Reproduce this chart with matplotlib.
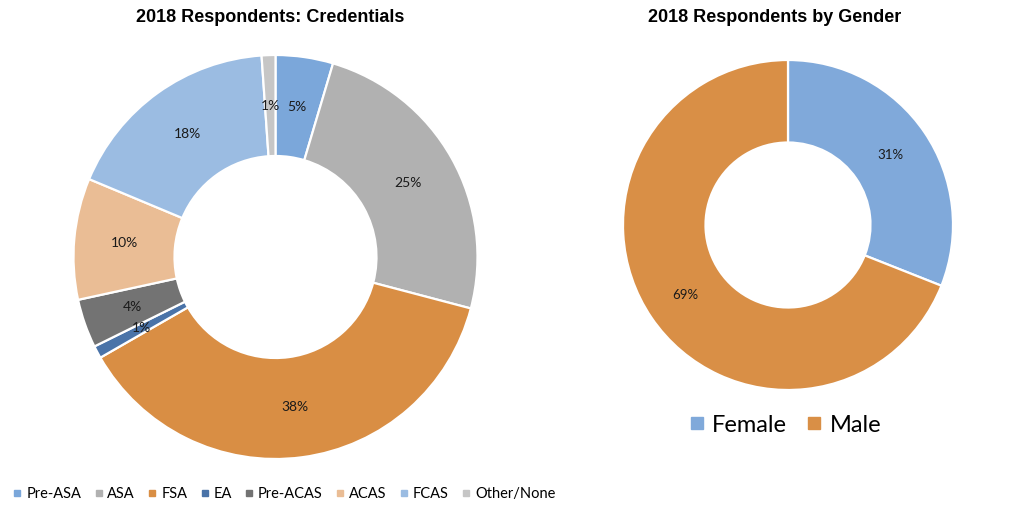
import matplotlib
matplotlib.use("Agg")
import matplotlib.pyplot as plt
from matplotlib.lines import Line2D
import numpy as np

# Data
cred_labels = ["Pre-ASA", "ASA", "FSA", "EA", "Pre-ACAS", "ACAS", "FCAS", "Other/None"]
cred_values = [4.6, 24.5, 37.6, 1.0, 3.9, 9.7, 17.6, 1.1]
cred_text = ["5%", "25%", "38%", "1%", "4%", "10%", "18%", "1%"]
cred_colors = ["#7BA7DA", "#B1B1B1", "#D98E44", "#4A73A8", "#737373", "#EABD95", "#9BBCE2", "#C6C6C6"]

gender_labels = ["Female", "Male"]
gender_values = [31, 69]
gender_text = ["31%", "69%"]
gender_colors = ["#80A9DA", "#D98F46"]

W, H = 1013, 522
fig = plt.figure(figsize=(W / 100, H / 100), dpi=100)
lblfont = "Lato"

def add_donut(cx, cy, r, values, colors, texts, fs):
    ax = fig.add_axes([(cx - r) / W, (H - cy - r) / H, 2 * r / W, 2 * r / H])
    ax.pie(values, colors=colors, startangle=90, counterclock=False,
           radius=1.0, wedgeprops=dict(width=0.5, edgecolor="white", linewidth=1.6))
    total = sum(values)
    cum = 0
    for v, t in zip(values, texts):
        mid = 90 - 360 * (cum + v / 2) / total
        cum += v
        x = 0.75 * np.cos(np.radians(mid))
        y = 0.75 * np.sin(np.radians(mid))
        ax.text(x, y, t, ha="center", va="center", fontsize=fs, color="#1a1a1a", family=lblfont)
    ax.set_xlim(-1, 1)
    ax.set_ylim(-1, 1)
    ax.set_aspect("equal")
    ax.axis("off")
    return ax

add_donut(275.5, 257, 202, cred_values, cred_colors, cred_text, 10)
add_donut(788, 225, 165, gender_values, gender_colors, gender_text, 9.5)

fig.text(270 / W, 1 - 17 / H, "2018 Respondents: Credentials", ha="center", va="center",
         fontsize=13, fontweight="bold", family="Liberation Sans")
fig.text(775 / W, 1 - 17 / H, "2018 Respondents by Gender", ha="center", va="center",
         fontsize=13, fontweight="bold", family="Liberation Sans")

h1 = [Line2D([], [], marker="s", linestyle="none", markersize=5, color=c) for c in cred_colors]
fig.legend(h1, cred_labels, loc="center", bbox_to_anchor=(284.5 / W, 1 - 494 / H), ncol=8,
           frameon=False, handlelength=0.5, handletextpad=0.35, columnspacing=0.95,
           borderpad=0, borderaxespad=0, prop=dict(family=lblfont, size=10.5))

h2 = [Line2D([], [], marker="s", linestyle="none", markersize=8, color=c) for c in gender_colors]
fig.legend(h2, gender_labels, loc="center", bbox_to_anchor=(786 / W, 1 - 425 / H), ncol=2,
           frameon=False, handlelength=0.5, handletextpad=0.4, columnspacing=0.9,
           borderpad=0, borderaxespad=0, prop=dict(family=lblfont, size=17))

fig.savefig("out.png", dpi=100, facecolor="white")
